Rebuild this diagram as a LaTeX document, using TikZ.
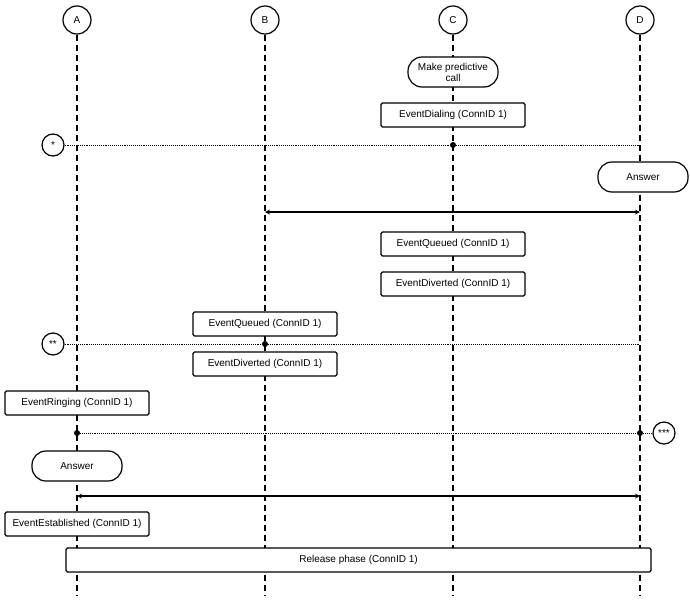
\documentclass[tikz,border=0pt]{standalone}
\usepackage{fontspec}
\setmainfont{Liberation Sans}
\usetikzlibrary{positioning}
\usetikzlibrary{shapes.geometric, arrows}
\tikzstyle{head} = [circle, minimum size=28pt, inner sep=0pt, draw=black, line width=1.2pt, fill=white, font=\fontsize{10}{11}\selectfont]
\tikzstyle{starmark} = [circle, minimum size=22pt, inner sep=0pt, draw=black, line width=1.2pt, fill=white, font=\fontsize{10}{11}\selectfont]
\tikzstyle{event} = [rectangle, rounded corners=1.5pt, minimum width=144pt, minimum height=24pt, text centered, draw=black, line width=1.2pt, fill=white, font=\fontsize{10}{11}\selectfont]
\tikzstyle{action} = [rectangle, rounded corners=14pt, minimum width=90pt, minimum height=30pt, text centered, align=center, inner sep=1pt, draw=black, line width=1.2pt, fill=white, font=\fontsize{10}{11}\selectfont]
\tikzstyle{lifeline} = [line width=1.1pt, dash pattern=on 6pt off 4pt]
\tikzstyle{sync} = [line width=0.9pt, densely dotted]
\tikzstyle{dot} = [circle, fill=black, inner sep=0pt, minimum size=6pt]
\tikzstyle{arrow} = [line width=1.2pt,<->,>=stealth]

\begin{document}
\begin{tikzpicture}[x=1pt, y=-1pt]
	\useasboundingbox (0,0) rectangle (690,600);

	% lifelines
	\coordinate (Aend) at (77,595);
	\coordinate (Bend) at (265,595);
	\coordinate (Cend) at (453,595);
	\coordinate (Dend) at (640,595);

	\node (A) [head] at (77,20) {A};
	\node (B) [head] at (265,20) {B};
	\node (C) [head] at (453,20) {C};
	\node (D) [head] at (640,20) {D};

	\draw [lifeline] (A) -- (Aend);
	\draw [lifeline] (B) -- (Bend);
	\draw [lifeline] (C) -- (Cend);
	\draw [lifeline] (D) -- (Dend);

	% predictive call
	\node (makeCall) [action] at (453,72) {Make predictive\\call};
	\node (dialing) [event] at (453,115) {EventDialing (ConnID 1)};

	\node (star1) [starmark] at (53,145) {*};
	\draw [sync] (star1) -- (D |- star1);
	\node (dotC) [dot] at (C |- star1) {};

	\node (answerD) [action] at (643,177) {Answer};
	\coordinate (talkB) at (265,212);
	\draw [arrow] (talkB) -- (D |- talkB);

	\node (queuedC) [event] at (453,244) {EventQueued (ConnID 1)};
	\node (divertedC) [event] at (453,284) {EventDiverted (ConnID 1)};

	% routing point
	\node (queuedB) [event] at (265,324) {EventQueued (ConnID 1)};
	\node (star2) [starmark] at (53,344) {**};
	\draw [sync] (star2) -- (D |- star2);
	\node (dotB) [dot] at (B |- star2) {};
	\node (divertedB) [event] at (265,364) {EventDiverted (ConnID 1)};

	% agent
	\node (ringing) [event] at (77,403) {EventRinging (ConnID 1)};
	\node (star3) [starmark] at (664,433) {***};
	\node (dotA) [dot] at (77,433) {};
	\node (dotD) [dot] at (D |- star3) {};
	\draw [sync] (dotA) -- (dotD);
	\draw [sync] (dotD) -- (star3);

	\node (answerA) [action] at (77,466) {Answer};
	\coordinate (talkA) at (77,496);
	\draw [arrow] (talkA) -- (D |- talkA);

	\node (established) [event] at (77,524) {EventEstablished (ConnID 1)};
	\node (release) [event, minimum width=585pt] at (358.5,560) {Release phase (ConnID 1)};

\end{tikzpicture}
\end{document}
